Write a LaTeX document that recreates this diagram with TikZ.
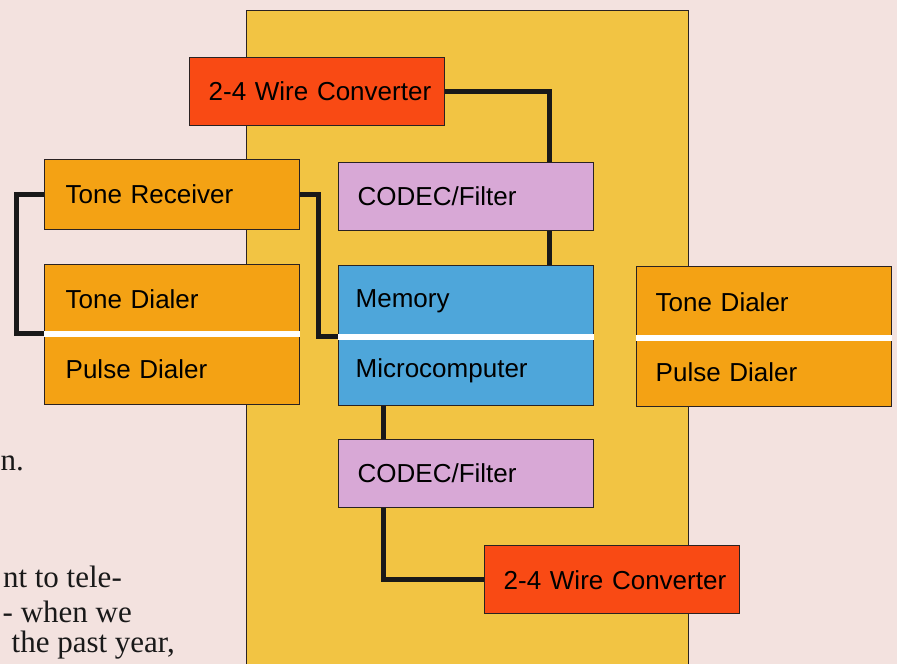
\documentclass[tikz,border=0pt]{standalone}
\usepackage{fontspec}
\setmainfont{Liberation Sans}
\newfontfamily\bodyserif{Liberation Serif}
\usetikzlibrary{positioning}

\definecolor{paper}{HTML}{F3E2DF}
\definecolor{panel}{HTML}{F2C443}
\definecolor{dialer}{HTML}{F4A214}
\definecolor{conv}{HTML}{F94A14}
\definecolor{codec}{HTML}{D8A8D6}
\definecolor{micro}{HTML}{4EA6DA}
\definecolor{boxline}{HTML}{2A2222}

\begin{document}
\begin{tikzpicture}[x=1pt, y=-1pt,
  box/.style={draw=boxline, line width=1.4pt, anchor=north west, inner xsep=19pt, inner ysep=0pt,
    text width=217pt, align=left, minimum height=68pt, font=\fontsize{26}{30}\selectfont, text=black},
  wire/.style={line width=5pt, black!90, line join=miter},
  sep/.style={line width=6pt, white},
  body/.style={anchor=base east, inner sep=0pt, text=black!90, font=\bodyserif\fontsize{31}{34}\selectfont}]
\useasboundingbox (0,0) rectangle (897,664);
\clip (0,0) rectangle (897,664);
\fill[paper] (0,0) rectangle (897,664);
\filldraw[fill=panel, draw=boxline, line width=0.8pt] (246,10) rectangle (688,680);

% text of the page
\node[body] (l1) at (24,470) {n.};
\node[body] (l2) at (122,587) {nt to tele-};
\node[body] (l3) at (132,622) {- when we};
\node[body] (l4) at (175,652) {the past year,};

% blocks
\node[box, fill=conv] (convT) at (189,57) {\mbox{2-4 Wire Converter}};
\node[box, fill=dialer, inner xsep=21pt, text width=213pt, minimum height=70pt] (recv) at (44,159) {Tone Receiver};
\node[box, fill=codec] (codecT) at (338,162) {CODEC/Filter};
\node[box, fill=dialer, inner xsep=21pt, text width=213pt, minimum height=69pt] (toneL) at (44,264) {Tone Dialer};
\node[box, fill=dialer, inner xsep=21pt, text width=213pt, minimum height=71pt] (pulseL) at (44,333) {Pulse Dialer};
\node[box, fill=micro, inner xsep=17pt, text width=221pt, minimum height=71pt] (memo) at (338,265) {Memory};
\node[box, fill=micro, inner xsep=17pt, text width=221pt, minimum height=69pt] (mcu) at (338,336) {Microcomputer};
\node[box, fill=dialer, minimum height=71pt] (toneR) at (636,266) {Tone Dialer};
\node[box, fill=dialer, minimum height=69pt] (pulseR) at (636,337) {Pulse Dialer};
\node[box, fill=codec] (codecB) at (338,439) {CODEC/Filter};
\node[box, fill=conv] (convB) at (484,545) {\mbox{2-4 Wire Converter}};

\draw[sep] (toneL.south west) -- (toneL.south east);
\draw[sep] (memo.south west) -- (memo.south east);
\draw[sep] (toneR.south west) -- (toneR.south east);

% links
\draw[wire] (convT.east) -| ([xshift=-45pt]codecT.north east);
\draw[wire] ([xshift=-45pt]codecT.south east) -- ([xshift=-45pt]memo.north east);
\draw[wire] (recv.east) -- ++(18,0) |- (mcu.north west);
\draw[wire] (recv.west) -- ++(-28,0) |- (pulseL.north west);
\draw[wire] ([xshift=45pt]mcu.south west) -- ([xshift=45pt]codecB.north west);
\draw[wire] ([xshift=45pt]codecB.south west) |- (convB.west);
\end{tikzpicture}
\end{document}
